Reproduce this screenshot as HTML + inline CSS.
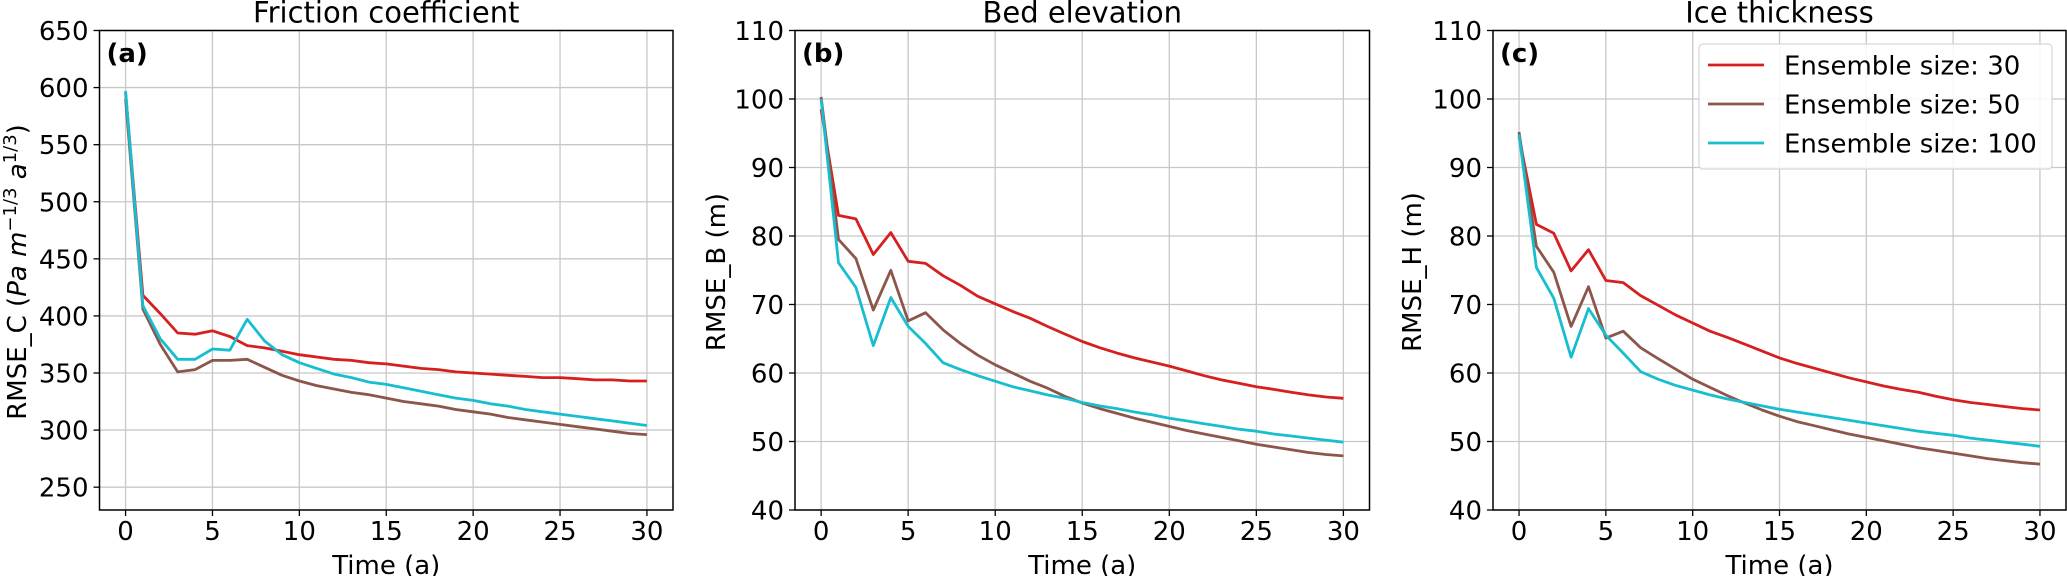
<!DOCTYPE html>
<html><head><meta charset="utf-8">
<style>
html,body{margin:0;padding:0;background:#fff;}
svg{display:block;font-family:"DejaVu Sans","Liberation Sans",sans-serif;}
</style></head>
<body>
<svg id="fig" width="2067" height="576" viewBox="0 0 2067 576" xmlns="http://www.w3.org/2000/svg"></svg>
<script>
const times = Array.from({length:31},(_,i)=>i);
const seriesNames = ["Ensemble size: 30","Ensemble size: 50","Ensemble size: 100"];
const seriesColors = ["#d62020","#8c564b","#17becf"];
const fricRed = [595,418,402,385,384,387,382,374,372,369,366,364,362,361,359,358,356,354,353,351,350,349,348,347,346,346,345,344,344,343,343];
const fricBrown = [590,406,375,351,353,361,361,362,355,348,343,339,336,333,331,328,325,323,321,318,316,314,311,309,307,305,303,301,299,297,296];
const fricCyan = [597,409,380,362,362,371,370,397,378,366,359,354,349,346,342,340,337,334,331,328,326,323,321,318,316,314,312,310,308,306,304];
const bedRed = [98.5,83,82.5,77.3,80.5,76.3,76,74.2,72.8,71.2,70.1,69,68,66.8,65.7,64.6,63.7,62.9,62.2,61.6,61,60.3,59.6,59,58.5,58,57.6,57.2,56.8,56.5,56.3];
const bedBrown = [100.3,79.5,76.7,69.2,75,67.6,68.8,66.3,64.3,62.6,61.2,60,58.8,57.8,56.6,55.6,54.8,54.1,53.4,52.8,52.2,51.6,51.1,50.6,50.1,49.6,49.2,48.8,48.4,48.1,47.9];
const bedCyan = [100,76.1,72.5,64,71,66.8,64.3,61.5,60.5,59.6,58.8,58,57.4,56.8,56.3,55.7,55.2,54.8,54.3,53.9,53.4,53,52.6,52.2,51.8,51.5,51.1,50.8,50.5,50.2,49.9];
const iceRed = [94.5,81.7,80.4,74.9,78,73.5,73.2,71.3,69.9,68.5,67.3,66.1,65.2,64.2,63.2,62.2,61.4,60.7,60,59.3,58.7,58.1,57.6,57.2,56.6,56.1,55.7,55.4,55.1,54.8,54.6];
const iceBrown = [95.2,78.5,74.7,66.8,72.6,65.1,66.1,63.7,62.1,60.6,59.1,57.9,56.7,55.6,54.6,53.7,52.9,52.3,51.7,51.1,50.6,50.1,49.6,49.1,48.7,48.3,47.9,47.5,47.2,46.9,46.7];
const iceCyan = [94.8,75.4,70.9,62.3,69.4,65.5,62.9,60.2,59.1,58.2,57.5,56.8,56.2,55.7,55.2,54.7,54.3,53.9,53.5,53.1,52.7,52.3,51.9,51.5,51.2,50.9,50.5,50.2,49.9,49.6,49.3];
const xTicks = [0,5,10,15,20,25,30];
const fricTicks = [250,300,350,400,450,500,550,600,650];
const mTicks = [40,50,60,70,80,90,100,110];

const NS="http://www.w3.org/2000/svg";
const svg=document.getElementById('fig');
const FS=26;
function mk(tag,attrs,parent,text){const e=document.createElementNS(NS,tag);for(const k in attrs)e.setAttribute(k,attrs[k]);if(text!==undefined)e.textContent=text;(parent||svg).appendChild(e);return e;}
function txt(x,y,str,attrs,parent){
 const a=Object.assign({x:x,y:y,'font-size':FS},attrs||{});
 return mk('text',a,parent,str);
}

const panels=[
 {key:'friction',left:99.5,right:673,title:'Friction coefficient',tag:'(a)',ymin:230,ymax:650,yt:fricTicks,data:[fricRed,fricBrown,fricCyan],ylab:'fric',ylx:26},
 {key:'bed',left:795,right:1369.5,title:'Bed elevation',tag:'(b)',ymin:40,ymax:110,yt:mTicks,data:[bedRed,bedBrown,bedCyan],ylab:'RMSE_B (m)',ylx:725},
 {key:'ice',left:1493,right:2066,title:'Ice thickness',tag:'(c)',ymin:40,ymax:110,yt:mTicks,data:[iceRed,iceBrown,iceCyan],ylab:'RMSE_H (m)',ylx:1421,legend:true}
];
const TOP=30.5,BOT=510;
panels.forEach(p=>{
 const g=mk('g',{});
 
 
 const x0=p.left+(p.right-p.left)*(1.5/33);
 const xs=(p.right-p.left)/33;
 const X=t=>x0+t*xs;
 const Y=v=>BOT-(v-p.ymin)/(p.ymax-p.ymin)*(BOT-TOP);
 xTicks.forEach(t=>{
  const l=mk('line',{x1:X(t),x2:X(t),y1:TOP,y2:BOT,stroke:'#c8c8c8','stroke-width':1.3},g);
  
  
  mk('line',{x1:X(t),x2:X(t),y1:BOT,y2:BOT+6,stroke:'#000','stroke-width':1.3},g);
  const tx=txt(X(t),540,String(t),{'text-anchor':'middle'},g);
  
  
 });
 p.yt.forEach(v=>{
  const l=mk('line',{x1:p.left,x2:p.right,y1:Y(v),y2:Y(v),stroke:'#c8c8c8','stroke-width':1.3},g);
  
  
  mk('line',{x1:p.left-6,x2:p.left,y1:Y(v),y2:Y(v),stroke:'#000','stroke-width':1.3},g);
  const tx=txt(p.left-11,Y(v)+9.5,String(v),{'text-anchor':'end'},g);
  
  
 });
 p.data.forEach((arr,i)=>{
  const pts=arr.map((v,j)=>X(times[j]).toFixed(1)+','+Y(v).toFixed(1)).join(' ');
  const pl=mk('polyline',{points:pts,fill:'none',stroke:seriesColors[i],'stroke-width':2.8,'stroke-linejoin':'round'},g);
  
  
 });
 const fr=mk('rect',{x:p.left,y:TOP,width:p.right-p.left,height:BOT-TOP,fill:'none',stroke:'#000','stroke-width':1.5},g);
 
 
 const ti=txt((p.left+p.right)/2,22.5,p.title,{'text-anchor':'middle','font-size':29},g);
 
 
 const tg=txt(p.left+7,62,p.tag,{'font-weight':'bold'},g);
 
 
 const xl=txt((p.left+p.right)/2,574,'Time (a)',{'text-anchor':'middle'},g);
 
 
 const yl=mk('text',{x:0,y:0,'font-size':FS,'text-anchor':'middle',transform:`translate(${p.ylx},272) rotate(-90)`},g);
 
 
 if(p.ylab==='fric'){
  mk('tspan',{},yl,'RMSE_C (');
  mk('tspan',{'font-style':'italic'},yl,'Pa m');
  mk('tspan',{'font-size':18,dy:-10},yl,'−1/3');
  mk('tspan',{'font-style':'italic',dy:10},yl,' a');
  mk('tspan',{'font-size':18,dy:-10},yl,'1/3');
  mk('tspan',{dy:10},yl,')');
 } else yl.textContent=p.ylab;
 if(p.legend){
  const lg=mk('g',{},g);
  
  
  mk('rect',{x:1699,y:44,width:353,height:125,rx:4,fill:'#fff','fill-opacity':0.85,stroke:'#d6d6d6','stroke-width':1.2},lg);
  seriesNames.forEach((n,i)=>{
   const y=65+i*39;
   const e=mk('g',{},lg);
   
   
   mk('line',{x1:1708,x2:1764,y1:y,y2:y,stroke:seriesColors[i],'stroke-width':2.8},e);
   txt(1784,y+9.5,n,{},e);
  });
 }
});
</script>
</body></html>
